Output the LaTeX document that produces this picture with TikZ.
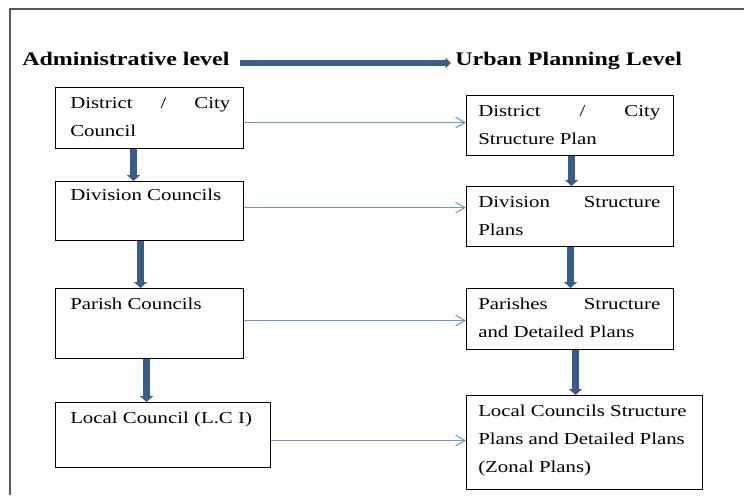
\documentclass[tikz,border=0pt]{standalone}
\usepackage{fontspec}
\setmainfont{Liberation Serif}[FakeStretch=1.25]
\usetikzlibrary{arrows.meta}
\definecolor{flowblue}{RGB}{56,93,138}
\definecolor{linkblue}{RGB}{110,150,205}
\definecolor{framegray}{RGB}{90,90,90}
\tikzset{
 box/.style={draw,line width=0.8pt,anchor=north west,inner sep=0pt},
 txt/.style={anchor=north west,inner sep=0pt,align=left,font=\fontsize{12.5}{21}\selectfont},
 head/.style={anchor=base west,inner sep=0pt,font=\fontsize{14.4}{17}\selectfont\bfseries},
 flow/.style={flowblue,line width=5.25pt,-{Triangle[width=9.75pt,length=4.5pt]}},
 headflow/.style={flowblue,line width=4pt,-{Triangle[width=7.5pt,length=4pt]}},
 link/.style={linkblue,line width=0.8pt,-{Straight Barb[width=8pt,length=7pt,line width=0.8pt]}}
}
\begin{document}
\begin{tikzpicture}[x=0.75pt,y=-0.75pt]
\useasboundingbox (0,0) rectangle (744,497);
\draw[framegray,line width=1.1pt] (744,9) -- (10,9) -- (10,495);
\node[head] (adm) at (22,65) {Administrative level};
\node[head] (upl) at (455,65) {Urban Planning Level};
\draw[headflow] ([shift={(10,-2)}]adm.base east) -- ([shift={(-4,-2)}]upl.base west);
\foreach \n/\x/\y/\w/\h in {L1/55/87/188/61, L2/55/181/188/59, L3/55/288/188/70,
  L4/55/402/215/65, R1/466/95/207/60, R2/466/186/207/60, R3/466/288/207/61, R4/466/395/236/94}
\node[box,minimum width=\w*0.75pt,minimum height=\h*0.75pt] (\n) at (\x,\y) {};
\node[txt] (tL1) at ([shift={(15,10)}]L1.north west) {\hbox to 120pt{District\hfill/\hfill City}\\Council};
\node[txt] (tL2) at ([shift={(15,8)}]L2.north west) {Division Councils};
\node[txt] (tL3) at ([shift={(15,10)}]L3.north west) {Parish Councils};
\node[txt] (tL4) at ([shift={(15,10)}]L4.north west) {Local Council (L.C I)};
\node[txt] (tR1) at ([shift={(12,10)}]R1.north west) {\hbox to 136.5pt{District\hfill/\hfill City}\\Structure Plan};
\node[txt] (tR2) at ([shift={(12,10)}]R2.north west) {\hbox to 136.5pt{Division\hfill Structure}\\Plans};
\node[txt] (tR3) at ([shift={(12,10)}]R3.north west) {\hbox to 136.5pt{Parishes\hfill Structure}\\and Detailed Plans};
\node[txt] (tR4) at ([shift={(12,10)}]R4.north west) {Local Councils Structure\\Plans and Detailed Plans\\(Zonal Plans)};
\foreach \a/\b/\s/\t[count=\i] in {L1/L2/-16/-16, L2/L3/-9/-9, L3/L4/-3/-16.5,
  R1/R2/1.5/1.5, R2/R3/0.5/0.5, R3/R4/5.5/-9}
\draw[flow] ([xshift=\s*0.75pt]\a.south) -- ([xshift=\t*0.75pt]\b.north);
\foreach \i/\d in {1/4.5, 2/-3.5, 3/-3, 4/5.5}{
\path ([yshift=-\d*0.75pt]L\i.east) coordinate (s\i);
\draw[link] (s\i) -- (s\i -| R\i.west);
}
\end{tikzpicture}
\end{document}
